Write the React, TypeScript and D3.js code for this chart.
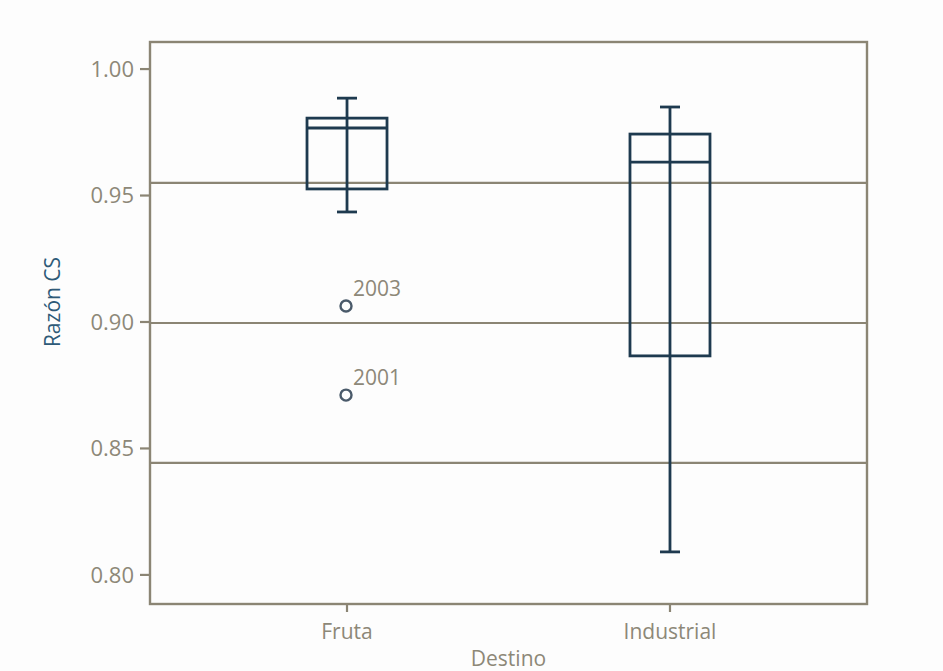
import React from "react";
import * as d3 from "d3";

const categories = ["Fruta", "Industrial"];
// [whiskerLow, q1, median, q3, whiskerHigh]
const boxStats = [
  [0.9435, 0.9526, 0.9767, 0.9806, 0.9885],
  [0.8091, 0.8866, 0.9632, 0.9743, 0.985],
];
const outlierYears = ["2003", "2001"];
const outlierValues = [0.9063, 0.8711];
const outlierGroup = ["Fruta", "Fruta"];
const refLines = [0.955, 0.8996, 0.8443];
const yTicks = [0.8, 0.85, 0.9, 0.95, 1.0];

const W = 943;
const H = 671;
const margin = { left: 150, right: 76, top: 42, bottom: 67 };

const frameColor = "#8b8574";
const labelColor = "#8d8878";
const boxColor = "#1e3a4f";

export default function App() {
  const innerW = W - margin.left - margin.right;
  const innerH = H - margin.top - margin.bottom;

  const x = d3
    .scalePoint<string>()
    .domain(categories)
    .range([margin.left, margin.left + innerW])
    .padding(0.61);

  const y = d3
    .scaleLinear()
    .domain([0.7885, 1.0107])
    .range([margin.top + innerH, margin.top]);

  const boxW = 80;
  const capW = 20;
  const font = "'Open Sans', 'Noto Sans', sans-serif";

  return (
    <svg
      width={W}
      height={H}
      style={{ position: "absolute", left: 0, top: 0, background: "#fdfdfd" }}
      fontFamily={font}
    >
      {/* reference lines */}
      {refLines.map((v, i) => (
        <line
          key={"ref" + i}
          x1={margin.left}
          x2={margin.left + innerW}
          y1={y(v)}
          y2={y(v)}
          stroke={frameColor}
          strokeWidth={2.2}
        />
      ))}

      {/* boxes */}
      {boxStats.map((s, i) => {
        const cx = x(categories[i])!;
        const [lo, q1, med, q3, hi] = s;
        return (
          <g key={"box" + i} stroke={boxColor} strokeWidth={2.8} fill="none">
            <line x1={cx} x2={cx} y1={y(hi)} y2={y(lo)} />
            <line x1={cx - capW / 2} x2={cx + capW / 2} y1={y(hi)} y2={y(hi)} />
            <line x1={cx - capW / 2} x2={cx + capW / 2} y1={y(lo)} y2={y(lo)} />
            <rect x={cx - boxW / 2} y={y(q3)} width={boxW} height={y(q1) - y(q3)} />
            <line x1={cx - boxW / 2} x2={cx + boxW / 2} y1={y(med)} y2={y(med)} />
          </g>
        );
      })}

      {/* outliers */}
      {outlierValues.map((v, i) => {
        const cx = x(outlierGroup[i])!;
        return (
          <g key={"out" + i}>
            <circle cx={cx - 1} cy={y(v)} r={5.5} fill="none" stroke="#4a5a6a" strokeWidth={2.4} />
            <text x={cx + 6} y={y(v) - 10} fontSize={21} fill={labelColor}>
              {outlierYears[i]}
            </text>
          </g>
        );
      })}

      {/* frame */}
      <rect
        x={margin.left}
        y={margin.top}
        width={innerW}
        height={innerH}
        fill="none"
        stroke={frameColor}
        strokeWidth={2.4}
      />

      {/* y axis */}
      {yTicks.map((t) => (
        <g key={"yt" + t}>
          <line
            x1={margin.left - 10}
            x2={margin.left}
            y1={y(t)}
            y2={y(t)}
            stroke={frameColor}
            strokeWidth={2.2}
          />
          <text
            x={margin.left - 16}
            y={y(t)}
            dy="0.35em"
            textAnchor="end"
            fontSize={22}
            fill={labelColor}
          >
            {d3.format(".2f")(t)}
          </text>
        </g>
      ))}

      {/* x axis */}
      {categories.map((c) => (
        <g key={"xt" + c}>
          <line
            x1={x(c)}
            x2={x(c)}
            y1={margin.top + innerH}
            y2={margin.top + innerH + 8}
            stroke={frameColor}
            strokeWidth={2.2}
          />
          <text
            x={x(c)}
            y={margin.top + innerH + 35}
            textAnchor="middle"
            fontSize={21}
            fill={labelColor}
          >
            {c}
          </text>
        </g>
      ))}

      <text
        x={margin.left + innerW / 2}
        y={H - 5}
        textAnchor="middle"
        fontSize={21}
        fill={labelColor}
      >
        Destino
      </text>
      <text
        transform={`translate(60, 302) rotate(-90)`}
        textAnchor="middle"
        fontSize={21}
        fill="#2e5a78"
      >
        Razón CS
      </text>
    </svg>
  );
}
